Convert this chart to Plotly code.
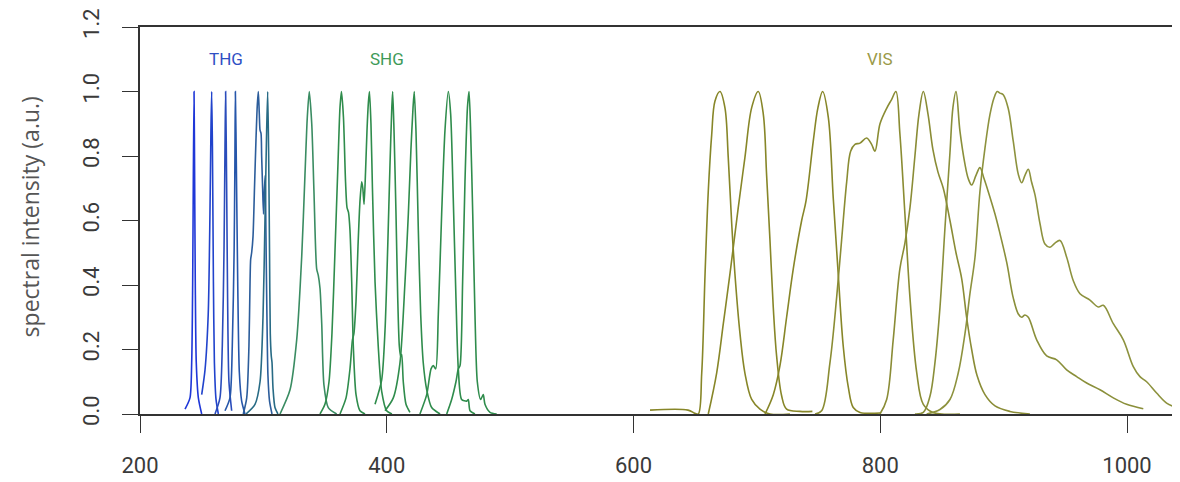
import plotly.graph_objects as go

# ---------------- data (wavelength in nm, normalised intensity) ----------------
# THG spectra
thg1_nm = [236.5, 240.5, 241.9, 242.7, 243.2, 243.8, 244.3, 244.8, 245.6, 247.3, 250.0]
thg1_int = [0.015, 0.05, 0.16, 0.41, 0.72, 1.0, 0.72, 0.41, 0.16, 0.05, 0.0]
thg2_nm = [250.0, 252.7, 255.3, 256.7, 257.5, 258.1, 258.7, 259.5, 260.3, 261.6, 263.5]
thg2_int = [0.06, 0.137, 0.31, 0.62, 0.88, 1.0, 0.83, 0.41, 0.16, 0.046, 0.0]
thg3_nm = [260.8, 264.8, 266.7, 268.1, 268.9, 269.4, 270.2, 271.0, 272.1, 274.3]
thg3_int = [0.0, 0.05, 0.21, 0.51, 0.83, 1.0, 0.72, 0.36, 0.1, 0.01]
thg4_nm = [268.9, 272.9, 274.8, 276.3, 276.9, 277.3, 278.1, 279.2, 280.5, 282.4, 285.1]
thg4_int = [0.01, 0.05, 0.21, 0.51, 0.77, 1.0, 0.77, 0.41, 0.13, 0.04, 0.0]
thg5_nm = [283.7, 286.5, 288.3, 289.2, 289.7, 290.5, 291.6, 292.8, 294.0, 295.1, 295.9,
           296.7, 297.3, 298.1, 298.6, 299.4, 300.1, 300.9, 301.5, 302.1, 302.9, 303.7, 305.0, 307.0]
thg5_int = [0.0, 0.05, 0.21, 0.41, 0.48, 0.50, 0.55, 0.70, 0.85, 0.96, 1.0,
            0.93, 0.88, 0.87, 0.80, 0.70, 0.62, 0.70, 0.74, 0.55, 0.30, 0.12, 0.04, 0.0]
thg6_nm = [285.9, 293.2, 297.3, 299.7, 301.3, 302.5, 303.5, 304.3, 305.0, 305.6, 306.4, 307.0, 307.8, 309.4, 311.8]
thg6_int = [0.0, 0.03, 0.10, 0.30, 0.60, 0.85, 1.0, 0.80, 0.50, 0.25, 0.18, 0.16, 0.08, 0.02, 0.0]

# SHG spectra
shg1_nm = [313.5, 321.6, 327.0, 331.1, 333.7, 335.6, 337.2, 339.2, 341.0, 343.2, 344.5, 345.9, 347.3, 349.1, 352.6, 359.4]
shg1_int = [0.0, 0.075, 0.23, 0.49, 0.74, 0.92, 1.0, 0.90, 0.69, 0.45, 0.43, 0.39, 0.28, 0.09, 0.02, 0.0]
shg2_nm = [345.9, 349.9, 353.2, 355.6, 358.0, 360.5, 362.1, 363.3, 364.9, 366.6, 367.8, 369.0, 370.2, 371.6, 372.9, 375.1, 378.3, 382.4]
shg2_int = [0.0, 0.03, 0.10, 0.25, 0.50, 0.78, 0.95, 1.0, 0.92, 0.72, 0.64, 0.625, 0.57, 0.41, 0.21, 0.06, 0.01, 0.0]
shg3_nm = [362.1, 367.0, 370.2, 372.2, 373.4, 375.1, 376.7, 378.3, 379.7, 380.6, 381.6, 382.8, 384.0, 385.2,
           386.0, 387.2, 388.4, 390.5, 393.1, 395.9, 399.9, 404.2]
shg3_int = [0.0, 0.05, 0.14, 0.23, 0.25, 0.35, 0.52, 0.66, 0.72, 0.70, 0.65, 0.75, 0.88, 0.97,
            1.0, 0.90, 0.70, 0.41, 0.21, 0.07, 0.01, 0.0]
shg4_nm = [390.5, 395.9, 398.6, 400.8, 402.6, 404.1, 404.8, 405.9, 407.5, 408.9, 410.2, 411.3, 412.1, 413.4, 415.6, 418.8]
shg4_int = [0.03, 0.106, 0.26, 0.52, 0.77, 0.95, 1.0, 0.877, 0.62, 0.36, 0.21, 0.178, 0.185, 0.10, 0.03, 0.005]
shg5_nm = [398.6, 405.3, 410.7, 414.8, 417.5, 419.6, 421.3, 422.3, 423.7, 425.6, 427.5, 429.6, 432.4, 436.4, 443.2]
shg5_int = [0.01, 0.05, 0.158, 0.41, 0.62, 0.82, 0.95, 1.0, 0.877, 0.57, 0.31, 0.158, 0.075, 0.02, 0.0]
shg6_nm = [426.9, 432.4, 435.9, 437.7, 439.7, 441.8, 444.5, 447.2, 449.9, 451.8, 453.9, 456.1, 458.0, 460.7, 464.8, 466.1, 467.5, 471.5]
shg6_int = [0.0, 0.06, 0.14, 0.15, 0.14, 0.31, 0.62, 0.88, 1.0, 0.93, 0.67, 0.36, 0.14, 0.045, 0.04, 0.045, 0.01, 0.0]
shg7_nm = [448.6, 452.6, 456.1, 458.0, 459.4, 461.5, 463.4, 465.4, 466.7, 468.0, 469.7, 471.5, 473.4, 476.1, 478.2, 479.6, 483.7, 489.1]
shg7_int = [0.0, 0.045, 0.10, 0.14, 0.15, 0.41, 0.72, 0.95, 1.0, 0.877, 0.62, 0.31, 0.10, 0.045, 0.06, 0.03, 0.005, 0.0]

# VIS spectra
vis1_nm = [613.4, 644.2, 649.8, 652.5, 655.3, 658.0, 660.6, 663.4, 666.0, 670.1, 674.1, 676.8, 679.6, 682.2, 686.3, 690.3, 695.8, 702.5, 710.6, 726.8]
vis1_int = [0.012, 0.012, 0.002, 0.0, 0.127, 0.435, 0.69, 0.867, 0.97, 1.0, 0.95, 0.795, 0.59, 0.435, 0.25, 0.127, 0.045, 0.015, 0.0, 0.0]
vis2_nm = [660.6, 667.4, 672.8, 678.2, 684.9, 690.3, 695.8, 701.1, 705.2, 707.9, 710.6, 713.3, 716.0, 720.1, 724.1, 734.9, 745.0]
vis2_int = [0.0, 0.127, 0.28, 0.435, 0.64, 0.795, 0.95, 1.0, 0.93, 0.74, 0.54, 0.33, 0.18, 0.056, 0.015, 0.008, 0.008]
vis3_nm = [706.6, 713.3, 718.7, 724.1, 729.5, 736.3, 739.8, 745.7, 749.5, 753.3, 757.9, 761.9, 766.0, 770.0, 774.1, 778.1, 783.6, 799.8]
vis3_int = [0.0, 0.06, 0.15, 0.30, 0.45, 0.60, 0.66, 0.846, 0.95, 1.0, 0.92, 0.67, 0.43, 0.21, 0.083, 0.02, 0.005, 0.003]
vis4_nm = [747.1, 752.5, 759.2, 764.7, 768.7, 772.8, 776.0, 779.5, 783.6, 789.0, 793.0, 795.7, 799.8, 805.2, 809.2,
           812.7, 815.9, 820.0, 824.1, 829.5, 834.9, 842.7, 864.6]
vis4_int = [0.0, 0.01, 0.158, 0.363, 0.54, 0.72, 0.815, 0.836, 0.84, 0.856, 0.836, 0.815, 0.90, 0.948, 0.975,
            1.0, 0.87, 0.62, 0.36, 0.13, 0.03, 0.005, 0.0]
vis5_nm = [799.8, 805.2, 810.5, 815.9, 820.0, 824.1, 828.1, 831.4, 834.9, 838.7, 842.7, 846.8, 851.1, 856.5,
           861.4, 866.0, 870.0, 874.1, 878.4, 884.9, 893.0, 905.1, 921.3]
vis5_int = [0.0, 0.045, 0.23, 0.45, 0.53, 0.64, 0.80, 0.93, 1.0, 0.93, 0.82, 0.75, 0.70, 0.60,
            0.50, 0.42, 0.30, 0.20, 0.12, 0.06, 0.025, 0.008, 0.0]
vis6_nm = [828.1, 834.9, 840.3, 844.3, 848.4, 852.5, 856.5, 858.9, 861.4, 864.6, 868.7, 871.3, 874.1, 877.6, 880.8,
           884.1, 887.5, 893.0, 897.0, 902.5, 907.8, 911.9, 914.6, 917.3, 920.0, 926.8, 934.9, 943.0, 951.1, 959.2,
           967.3, 978.1, 988.9, 999.7, 1013.2]
vis6_int = [0.0, 0.005, 0.055, 0.158, 0.33, 0.58, 0.81, 0.95, 1.0, 0.877, 0.774, 0.73, 0.71, 0.74, 0.764,
            0.73, 0.69, 0.62, 0.56, 0.47, 0.36, 0.31, 0.30, 0.307, 0.30, 0.23, 0.18, 0.168, 0.137, 0.116,
            0.096, 0.075, 0.05, 0.03, 0.016]
vis7_nm = [837.6, 848.4, 856.5, 863.2, 868.7, 872.7, 876.8, 880.8, 884.9, 888.9, 892.2, 894.8, 897.0, 899.7, 903.7,
           907.8, 911.9, 914.6, 917.3, 920.0, 922.6, 925.4, 929.5, 933.5, 937.6, 941.6, 945.7, 951.1, 956.4, 961.9,
           970.0, 976.7, 980.8, 988.9, 997.0, 1005.1, 1010.5, 1015.9, 1024.0, 1032.1, 1040.2, 1047.0]
vis7_int = [0.0, 0.014, 0.045, 0.127, 0.25, 0.373, 0.486, 0.69, 0.825, 0.928, 0.98, 1.0, 0.995, 0.99, 0.948,
            0.846, 0.743, 0.717, 0.74, 0.759, 0.72, 0.68, 0.59, 0.527, 0.517, 0.53, 0.538, 0.486, 0.414, 0.373,
            0.353, 0.332, 0.337, 0.28, 0.23, 0.147, 0.116, 0.10, 0.065, 0.034, 0.019, 0.012]

thg_series = [(thg1_nm, thg1_int), (thg2_nm, thg2_int), (thg3_nm, thg3_int),
              (thg4_nm, thg4_int), (thg5_nm, thg5_int), (thg6_nm, thg6_int)]
shg_series = [(shg1_nm, shg1_int), (shg2_nm, shg2_int), (shg3_nm, shg3_int), (shg4_nm, shg4_int),
              (shg5_nm, shg5_int), (shg6_nm, shg6_int), (shg7_nm, shg7_int)]
vis_series = [(vis1_nm, vis1_int), (vis2_nm, vis2_int), (vis3_nm, vis3_int), (vis4_nm, vis4_int),
              (vis5_nm, vis5_int), (vis6_nm, vis6_int), (vis7_nm, vis7_int)]

group_labels = ["THG", "SHG", "VIS"]
label_positions_nm = [269.5, 400.0, 800.0]

x_ticks = [200, 400, 600, 800, 1000]
y_ticks = [0.0, 0.2, 0.4, 0.6, 0.8, 1.0, 1.2]

# ---------------- styles ----------------
thg_colors = ["#1f37d8", "#2143cc", "#2a4cbb", "#2656aa", "#2c5d9b", "#286b85"]
shg_colors = ["#3a8c62", "#2f8c4c", "#2f8c4c", "#2f8c4c", "#2f8c4c", "#2f8c4c", "#2f8c4c"]
vis_colors = ["#878628", "#878628", "#878628", "#8a8c33", "#8a8c36", "#8a8f3a", "#8d923e"]
label_colors = ["#2f4fc4", "#3e9a58", "#9a9a48"]
smooth = [0.7, 0.7, 1.0]

fig = go.Figure()
for (series, colors), sm in zip(((thg_series, thg_colors), (shg_series, shg_colors), (vis_series, vis_colors)), smooth):
    for (xs, ys), c in zip(series, colors):
        fig.add_trace(go.Scatter(x=xs, y=ys, mode="lines",
                                 line=dict(color=c, width=1.6, shape="spline", smoothing=sm),
                                 showlegend=False, hoverinfo="skip"))

for txt, xpos, col in zip(group_labels, label_positions_nm, label_colors):
    fig.add_annotation(x=xpos, y=1.1, xref="x", yref="y", text=txt, showarrow=False,
                       font=dict(family="Roboto, DejaVu Sans", size=17, color=col))

fig.add_annotation(x=-0.106, y=0.51, xref="paper", yref="paper", text="spectral intensity (a.u.)",
                   textangle=-90, showarrow=False, xanchor="center", yanchor="middle",
                   font=dict(family="Open Sans, DejaVu Sans", size=23, color="#555555"))

x_per_px = 246.75 / 200.0
fig.update_layout(
    width=1172, height=474,
    margin=dict(l=132, r=0, t=17, b=68),
    plot_bgcolor="white", paper_bgcolor="white",
    xaxis=dict(range=[200, 200 + 1040 / x_per_px], tickvals=x_ticks, ticktext=[str(v) for v in x_ticks],
               showgrid=False, zeroline=False, showline=True, mirror=True, linecolor="#333333", linewidth=1.5,
               ticks="outside", ticklen=17, tickwidth=1.3, tickcolor="#333333", ticklabelstandoff=14,
               ticklabeloverflow="allow",
               tickfont=dict(family="Roboto, DejaVu Sans", size=22, color="#3a3a3a")),
    yaxis=dict(range=[0, 1.2], tickvals=y_ticks, ticktext=[f"{v:.1f}" for v in y_ticks],
               showgrid=False, zeroline=False, showline=True, linecolor="#333333", linewidth=1.5,
               ticks="outside", ticklen=16, tickwidth=1.3, tickcolor="#333333", tickangle=-90,
               ticklabelstandoff=14, ticklabeloverflow="allow",
               tickfont=dict(family="Roboto, DejaVu Sans", size=22, color="#3a3a3a")),
)

fig.write_html("out.html")
